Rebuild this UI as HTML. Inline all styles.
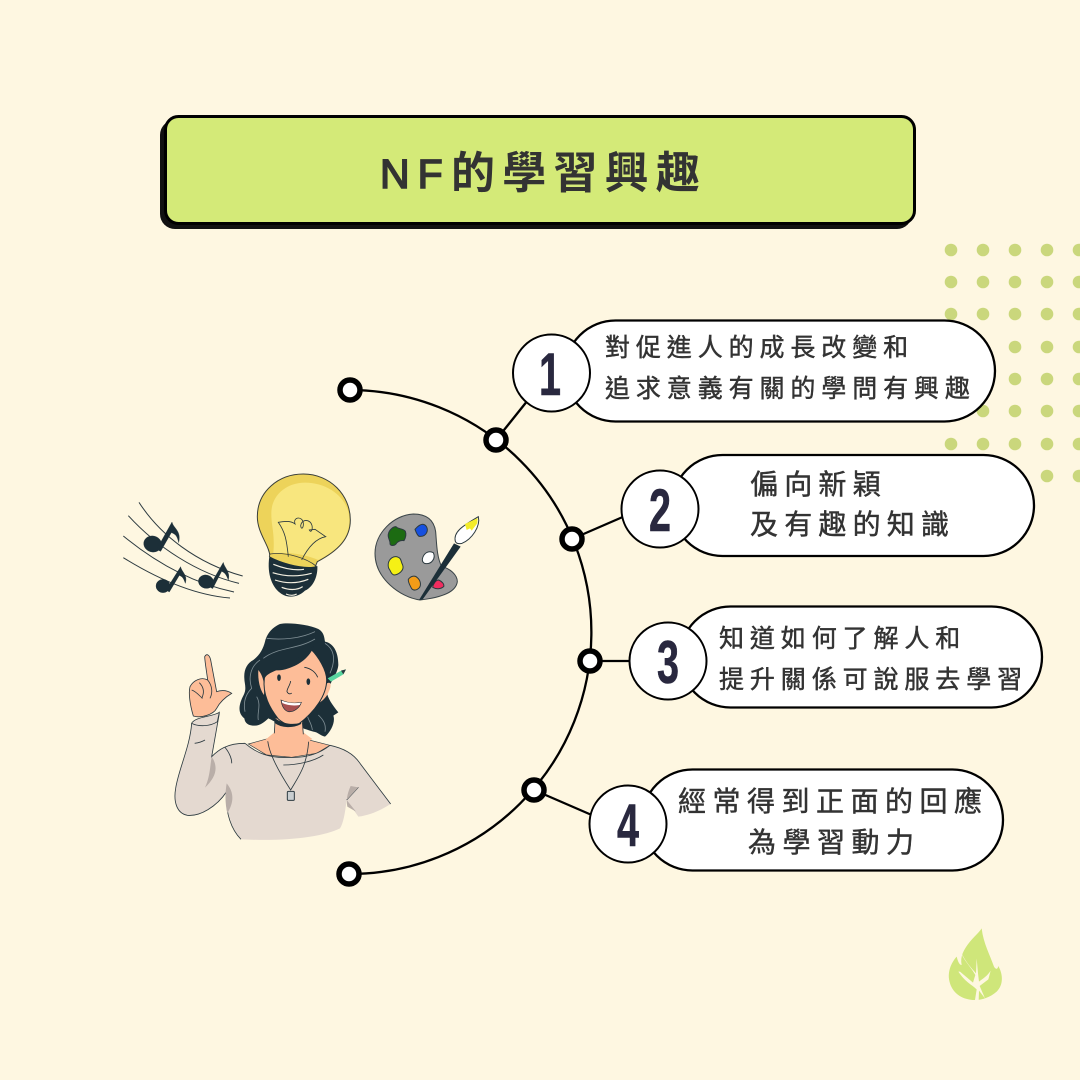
<!DOCTYPE html>
<html><head><meta charset="utf-8"><style>
html,body{margin:0;padding:0;background:#fef7e1}
svg{display:block}
.t{font-family:"Liberation Sans","Noto Sans CJK TC",sans-serif;font-weight:400;fill:#333;stroke:#333;stroke-width:.45px}
.n{font-family:"Liberation Sans",sans-serif;font-weight:700;fill:#29283f;stroke:#29283f;stroke-width:.6px;font-size:60px;text-anchor:middle}
</style></head><body>
<svg width="1080" height="1080" viewBox="0 0 1080 1080" xmlns="http://www.w3.org/2000/svg">
<rect width="1080" height="1080" fill="#fef7e1"/>

<!-- dots -->
<g fill="#cad77c">
<circle cx="951" cy="250" r="6.300"/><circle cx="983" cy="250" r="6.300"/><circle cx="1015" cy="250" r="6.300"/><circle cx="1047" cy="250" r="6.300"/><circle cx="1079" cy="250" r="6.300"/>
<circle cx="951" cy="282" r="6.300"/><circle cx="983" cy="282" r="6.300"/><circle cx="1015" cy="282" r="6.300"/><circle cx="1047" cy="282" r="6.300"/><circle cx="1079" cy="282" r="6.300"/>
<circle cx="951" cy="314" r="6.300"/><circle cx="983" cy="314" r="6.300"/><circle cx="1015" cy="314" r="6.300"/><circle cx="1047" cy="314" r="6.300"/><circle cx="1079" cy="314" r="6.300"/>
<circle cx="1015" cy="347" r="6.300"/><circle cx="1047" cy="347" r="6.300"/><circle cx="1079" cy="347" r="6.300"/>
<circle cx="1015" cy="379" r="6.300"/><circle cx="1047" cy="379" r="6.300"/><circle cx="1079" cy="379" r="6.300"/>
<circle cx="983" cy="411" r="6.300"/><circle cx="1015" cy="411" r="6.300"/><circle cx="1047" cy="411" r="6.300"/><circle cx="1079" cy="411" r="6.300"/>
<circle cx="951" cy="444" r="6.300"/><circle cx="983" cy="444" r="6.300"/><circle cx="1015" cy="444" r="6.300"/><circle cx="1047" cy="444" r="6.300"/><circle cx="1079" cy="444" r="6.300"/>
<circle cx="1047" cy="476" r="6.300"/><circle cx="1079" cy="476" r="6.300"/>
</g>

<!-- title -->
<rect x="160" y="120" width="752" height="109" rx="15" fill="#111"/>
<rect x="165.500" y="116.500" width="749" height="107" rx="13" fill="#d4ea78" stroke="#000" stroke-width="3"/>
<text class="t" x="380" y="188" font-size="41" letter-spacing="8" style="font-weight:400;stroke-width:1.600px">NF</text>
<text class="t" x="451" y="188" font-size="44" letter-spacing="7.200" style="font-weight:700;stroke-width:0">的學習興趣</text>

<!-- arc and connectors -->
<path d="M350 390A242 242 0 0 1 349 874" fill="none" stroke="#000" stroke-width="2.300"/>
<g stroke="#000" stroke-width="2.300" fill="none">
<path d="M496 440L528 400"/><path d="M572 539L625 516"/><path d="M590 661L632 661"/><path d="M534 790L594 816"/>
</g>
<g fill="#fff" stroke="#000" stroke-width="5.500">
<circle cx="350" cy="390" r="10"/><circle cx="496" cy="440" r="10"/><circle cx="572" cy="539" r="10"/><circle cx="590" cy="661" r="10"/><circle cx="534" cy="790" r="10"/><circle cx="349" cy="874" r="10"/>
</g>

<!-- pills -->
<g fill="#fff" stroke="#000" stroke-width="2.300">
<rect x="565" y="320.500" width="430" height="101" rx="50.500"/>
<rect x="672" y="455" width="362" height="101" rx="50.500"/>
<rect x="680" y="606.500" width="362" height="101" rx="50.500"/>
<rect x="642" y="769.500" width="361" height="101" rx="50.500"/>
</g>
<g fill="#fff" stroke="#000" stroke-width="2">
<circle cx="551.500" cy="373" r="38.500"/><circle cx="660" cy="509" r="38.500"/><circle cx="668" cy="661" r="38.500"/><circle cx="628" cy="824" r="38.500"/>
</g>
<g>
<text class="n" transform="translate(550 395) scale(.66 1)" x="0" y="0">1</text>
<text class="n" transform="translate(660 531) scale(.66 1)" x="0" y="0">2</text>
<text class="n" transform="translate(668 683) scale(.66 1)" x="0" y="0">3</text>
<text class="n" transform="translate(628 846) scale(.66 1)" x="0" y="0">4</text>
</g>
<g>
<text class="t" x="605" y="356" font-size="25" letter-spacing="5.900">對促進人的成長改變和</text>
<text class="t" x="605" y="397" font-size="25" letter-spacing="5.900">追求意義有關的學問有興趣</text>
<text class="t" x="750" y="494" font-size="28" letter-spacing="6.200">偏向新穎</text>
<text class="t" x="750" y="534" font-size="28" letter-spacing="6.200">及有趣的知識</text>
<text class="t" x="719" y="647" font-size="25" letter-spacing="5.900">知道如何了解人和</text>
<text class="t" x="719" y="688" font-size="25" letter-spacing="5.900">提升關係可說服去學習</text>
<text class="t" x="678" y="811" font-size="28" letter-spacing="6.500">經常得到正面的回應</text>
<text class="t" x="748" y="852" font-size="28" letter-spacing="6.500">為學習動力</text>
</g>

<!-- illustrations, coordinates in 3x zoom space -->
<g transform="translate(110 460) scale(.33333)">
<!-- music -->
<g fill="none" stroke="#2c3a40" stroke-width="3">
<path d="M87 127C150 225 260 310 398 348"/>
<path d="M55 167C140 260 260 340 387 370"/>
<path d="M40 228C140 310 250 370 372 396"/>
<path d="M40 293C140 355 250 405 360 414"/>
</g>
<g fill="#1c2f38" stroke="#1c2f38">
<ellipse cx="128" cy="252" rx="27" ry="24" transform="rotate(15 128 252)"/>
<path d="M140 268L186 186C190 205 215 212 206 248C202 228 196 222 184 218L152 274Z"/>
<ellipse cx="159" cy="378" rx="21" ry="20"/>
<path d="M168 390L212 320C214 335 234 345 226 370C220 352 216 350 208 346L178 396Z"/>
<ellipse cx="288" cy="365" rx="23" ry="20" transform="rotate(15 288 365)"/>
<path d="M298 380L340 307C342 322 362 335 355 360C348 342 344 338 335 334L308 386Z"/>
</g>
<!-- bulb -->
<path d="M580 42C660 42 721 105 721 180C721 235 685 272 622 305L615 322L480 290C478 255 442 220 442 170C442 95 505 42 580 42Z" fill="#edd35a" stroke="#3a3f3a" stroke-width="3"/>
<path d="M585 68C655 68 718 115 718 180C718 235 683 270 625 300C590 285 540 275 490 280C495 220 484 200 484 160C484 105 530 68 585 68Z" fill="#f8e67e"/>
<path d="M480 282C530 275 590 295 618 318L610 325C570 325 510 310 478 290Z" fill="#edd35a" stroke="#3a3f3a" stroke-width="2.500"/>
<path d="M535 290C530 240 525 215 505 187C525 183 545 183 555 192C550 175 565 170 575 178C587 190 575 218 572 197C575 180 590 178 600 186C612 196 606 224 598 210L615 208L647 230C620 235 595 260 575 300" fill="none" stroke="#2c3a40" stroke-width="2.500"/>
<path d="M478 290C525 312 585 328 622 318C624 345 612 380 585 392C565 412 535 415 515 402C488 385 470 345 478 290Z" fill="#1c2f38"/>
<g stroke="#f3efe0" stroke-width="3.500" fill="none">
<path d="M490 313C520 325 555 332 582 328"/><path d="M488 338C520 348 560 352 605 340"/><path d="M495 360C525 370 560 372 595 358"/><path d="M515 382C535 390 560 392 578 380"/><path d="M528 402C540 407 550 408 560 402"/>
</g>
</g>

<!-- palette -->
<g transform="translate(370 510) scale(.33333)">
<path d="M130 12C170 12 192 30 197 65C200 100 200 140 215 170C240 175 262 195 262 215C258 245 220 262 150 270C90 262 15 205 15 130C15 70 70 15 130 12Z" fill="#9a9a9a" stroke="#3a4448" stroke-width="3"/>
<g stroke="#2c3a40" stroke-width="3" stroke-linejoin="round">
<path d="M55 72C58 58 70 50 78 50C85 58 100 55 106 64C110 75 106 85 102 92C90 90 82 96 78 102C72 108 62 108 60 102C62 92 52 84 55 72Z" fill="#1c6b12"/>
<path d="M135 58C142 50 150 42 160 43C170 45 175 58 170 68C165 78 155 80 147 79C140 74 138 66 135 58Z" fill="#1650e0"/>
<path d="M157 148C160 130 175 120 190 128C198 145 185 162 168 161C160 160 157 155 157 148Z" fill="#fff"/>
<path d="M55 160C58 145 72 136 85 142C95 146 92 155 98 165C104 182 85 194 72 195C62 192 62 182 58 178C54 172 54 166 55 160Z" fill="#f5f015"/>
<path d="M115 208C122 198 135 195 142 203C152 212 154 225 148 233C140 242 130 242 125 236C120 226 114 218 115 208Z" fill="#f29c18"/>
<path d="M188 232C190 220 198 210 206 210C215 214 224 222 221 230C212 238 198 238 188 232Z" fill="#f02d5f"/>
</g>
<path d="M147 270L252 100L272 110L158 268Z" fill="#1c2f38"/>
<path d="M256 94C248 62 290 42 325 20C332 50 305 88 276 100C266 102 258 100 256 94Z" fill="#fff" stroke="#2c3a40" stroke-width="3"/>
<path d="M285 42L323 24L322 40L305 62L300 55L290 60Z" fill="#f3ec2a"/>
</g>

<!-- person body -->
<g transform="translate(110 460) scale(.33333)">
<path d="M495 770L495 830L415 852L470 885L545 892L620 880L660 856L578 835L578 770Z" fill="#fdbd98" stroke="#2c3a40" stroke-width="2"/>
<path d="M245 790C270 775 310 765 328 760L305 890C325 870 350 850 405 850C440 880 480 895 535 892C590 895 630 880 660 856C700 865 730 880 750 910L842 1032C810 1052 780 1065 745 1070L710 1020C705 1060 700 1090 690 1105C640 1130 530 1145 395 1138C365 1110 350 1060 350 995C320 1040 270 1070 230 1066C200 1060 190 1025 197 985C210 920 240 860 245 790Z" fill="#e4d9d0"/>
<path d="M245 790C240 860 205 930 197 985C190 1025 200 1060 232 1066C270 1070 320 1040 350 995C345 1060 365 1110 393 1138M405 850C350 850 325 870 305 890L328 760M660 856C700 865 730 880 750 910L842 1032M405 850C440 880 480 895 535 892C590 895 630 880 660 856M745 982L710 1020M345 862C360 880 366 900 365 910M520 915C560 915 610 905 640 885M254 850C268 848 280 843 285 840" fill="none" stroke="#2c3a40" stroke-width="2.500"/>
<path d="M305 890C325 920 320 950 285 983C300 950 300 920 305 890ZM350 970C375 1000 370 1030 352 1060C345 1030 345 1000 350 970ZM722 978L745 982L710 1020L738 1055L712 1040C708 1020 712 1000 722 978Z" fill="#b9aea8"/>
<path d="M245 790C255 770 310 770 328 757L322 785C300 800 265 800 245 790Z" fill="#e4d9d0" stroke="#2c3a40" stroke-width="2.500"/>
<path d="M473 838C475 880 510 940 542 990C565 950 590 920 596 845" fill="none" stroke="#2c3a40" stroke-width="2.500"/>
<rect x="532" y="994" width="21" height="27" rx="3" fill="#c9ced0" stroke="#2c3a40" stroke-width="3"/>
<path d="M284 590C290 578 300 585 303 605L320 695C335 690 350 690 365 700C345 712 330 725 320 745C310 765 270 775 250 768C240 735 235 700 240 680C250 660 275 650 293 660C290 635 285 610 284 590Z" fill="#fdbd98" stroke="#2c3a40" stroke-width="2.500"/>
<path d="M293 660C305 675 310 695 300 715M268 668C280 680 285 695 275 715M245 690C260 695 270 710 278 715" fill="none" stroke="#2c3a40" stroke-width="2.500"/>
</g>

<!-- head -->
<g transform="translate(225 615) scale(.33333)">
<path d="M165 27C190 22 250 28 280 42C298 52 298 70 300 80C325 85 340 110 340 150C338 175 320 195 305 230C308 250 322 270 340 292L325 302C332 320 318 350 300 365C285 362 280 352 265 350C250 345 240 342 235 340L150 320C140 315 135 312 130 310C120 320 105 332 90 332C70 332 60 325 58 310C38 295 40 270 56 240C66 220 58 205 58 190C56 165 66 145 85 135C105 120 115 100 120 80C125 55 145 35 165 27Z" fill="#1c2f38"/>
<path d="M150 310L148 352L120 375L150 388L235 388L262 372L235 352L232 320Z" fill="#fdbd98"/>
<path d="M150 320L148 355M232 322L235 358" fill="none" stroke="#2c3a40" stroke-width="2.500"/>
<path d="M100 165C112 180 120 200 117 240C105 225 98 195 100 165Z" fill="#fdbd98"/>
<path d="M306 205C318 198 320 212 312 228C306 245 295 255 285 262Z" fill="#fdbd98"/>
<path d="M118 190C122 172 160 165 195 145C225 130 245 118 258 103C280 125 305 165 305 195C305 240 270 290 220 328C205 336 180 330 160 312C135 280 112 240 118 190Z" fill="#fdbd98" stroke="#1c2f38" stroke-width="3"/>
<path d="M150 322C170 338 205 338 228 325C205 332 175 330 150 312Z" fill="#1c2f38" stroke="#1c2f38" stroke-width="4"/>
<path d="M268 92C255 125 225 150 190 160C175 165 160 168 148 165C175 150 205 140 230 120C245 108 255 100 268 92Z" fill="#1c2f38"/>
<path d="M125 70C165 75 225 72 270 50M115 130C160 95 215 105 270 72M300 85C325 100 335 130 315 175M60 290C55 265 60 240 80 220C70 190 75 155 105 135M100 315C95 295 110 270 95 245M262 345C260 325 250 315 248 305M300 350C305 325 290 310 280 300" fill="none" stroke="#7f8e94" stroke-width="2.500"/>
<ellipse cx="162" cy="188" rx="5.500" ry="10" fill="#1c2f38"/>
<ellipse cx="250" cy="200" rx="5.500" ry="10" fill="#1c2f38"/>
<path d="M238 157C258 160 272 172 278 187M197 198C195 212 185 222 186 230C190 238 197 238 200 234" fill="none" stroke="#1c2f38" stroke-width="2.500"/>
<path d="M168 255C190 265 210 266 229 262C224 280 205 292 190 290C176 286 170 270 168 255Z" fill="#a85050" stroke="#1c2f38" stroke-width="2"/>
<path d="M170 257C190 265 210 266 228 263L224 270C205 273 188 271 172 264Z" fill="#fff"/>
<path d="M308 190L350 166L363 163L355 178L318 200Z" fill="#58d6a0"/>
<path d="M348 167L363 163L355 178Z" fill="#2c3a40"/>
</g>

<!-- leaf logo -->
<g transform="translate(930 920) scale(.33333)">
<path d="M155 25C160 70 180 105 192 140C198 150 203 148 205 138C220 165 220 195 200 215C180 232 158 240 135 240C100 240 70 222 60 190C50 160 62 130 80 110C85 130 90 135 95 135C90 110 100 90 120 65C130 52 145 40 155 25Z" fill="#cfe67a"/>
<path d="M135 240L140 208C122 192 105 185 85 155L90 155L129 188L136 165C118 135 100 120 92 95C108 128 125 145 138 160L140 115L144 160L147 185C160 175 172 168 182 152L175 178L149 198L165 235L147 212L146 240Z" fill="#fef7e1"/>
</g>
</svg>
</body></html>
